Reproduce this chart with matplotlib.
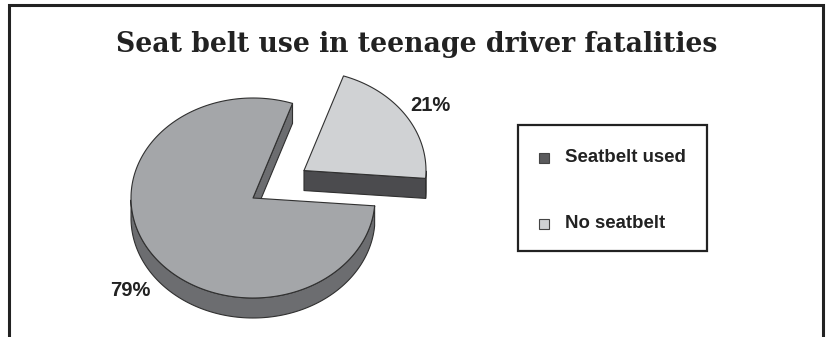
import numpy as np
import matplotlib
matplotlib.use("Agg")
import matplotlib.pyplot as plt
from matplotlib.patches import Polygon, Rectangle

# data
categories = ["Seatbelt used", "No seatbelt"]
values = [79, 21]
pct_labels = ["79%", "21%"]
title = "Seat belt use in teenage driver fatalities"

# styles (top face, side wall, legend swatch)
top_colors = ["#a4a6a9", "#d0d2d4"]
side_colors = ["#6c6d70", "#4b4b4e"]
legend_colors = ["#5a5a5c", "#d0d2d4"]
explode = [0.0, 0.5]

W, H = 829, 337
fig = plt.figure(figsize=(W / 100, H / 100), dpi=100)
ax = fig.add_axes([0, 0, 1, 1])
ax.set_xlim(0, W)
ax.set_ylim(H, 0)
ax.axis("off")

# outer frame (bottom runs off the picture)
ax.plot([9, 9, 823, 823], [H + 5, 5, 5, H + 5], color="#222222", lw=2.2,
        solid_joinstyle="miter")

ax.text(417, 52, title, ha="center", va="baseline", fontsize=19.2,
        family="DejaVu Serif", fontweight="bold", color="#222222")

# 3-D pie, pixel space
cx, cy = 253, 198
rx, ry = 122, 100
depth = 20
start = -4.5  # degrees, first slice drawn is the small one going ccw
edge = dict(edgecolor="#303030", linewidth=0.8, joinstyle="round")


def pt(x0, y0, a, r=1.0):
    return x0 + r * rx * np.cos(a), y0 - r * ry * np.sin(a)


fracs = np.array(values, dtype=float) / sum(values)
# small slice (index 1) from start, then big slice
order = [1, 0]
angles = {}
a = np.radians(start)
for i in order:
    span = 2 * np.pi * fracs[i]
    angles[i] = (a, a + span)
    a += span

for i in order:
    a0, a1 = angles[i]
    mid = (a0 + a1) / 2
    ox = cx + explode[i] * rx * np.cos(mid)
    oy = cy - explode[i] * ry * np.sin(mid)
    t = np.linspace(a0, a1, 200)
    xs, ys = pt(ox, oy, t)

    # radial cut faces facing the viewer
    for ang, sign in ((a0, -1), (a1, 1)):
        normal = ang + sign * np.pi / 2
        if np.sin(normal) < 0:
            ex, ey = pt(ox, oy, ang)
            face = [(ox, oy), (ex, ey), (ex, ey + depth), (ox, oy + depth)]
            ax.add_patch(Polygon(face, closed=True, facecolor=side_colors[i], **edge))

    # outer wall, front half only
    front = np.sin(t) <= 0
    if front.any():
        fx, fy = xs[front], ys[front]
        wall = np.column_stack([np.r_[fx, fx[::-1]], np.r_[fy, fy[::-1] + depth]])
        ax.add_patch(Polygon(wall, closed=True, facecolor=side_colors[i], **edge))

    top = np.column_stack([np.r_[ox, xs], np.r_[oy, ys]])
    ax.add_patch(Polygon(top, closed=True, facecolor=top_colors[i], **edge))

    lx, ly = pt(ox, oy, mid, 1.22)
    if np.sin(mid) < 0:
        ly += depth * 1.3
    else:
        ly += 2
    ax.text(lx + 2, ly, pct_labels[i], ha="center", va="center", fontsize=14.5,
            family="Liberation Sans", fontweight="bold", color="#222222")

# legend box
ax.add_patch(Rectangle((518, 125), 189, 126, facecolor="white",
                       edgecolor="#222222", lw=1.6))
for k, (name, col) in enumerate(zip(categories, legend_colors)):
    yy = 158 + k * 66
    ax.add_patch(Rectangle((539, yy - 5), 10, 10, facecolor=col,
                           edgecolor="#444444", lw=0.8))
    ax.text(565, yy, name, ha="left", va="center", fontsize=13.4,
            family="Liberation Sans", fontweight="bold", color="#222222")

fig.savefig("out.png", dpi=100, facecolor="white")
